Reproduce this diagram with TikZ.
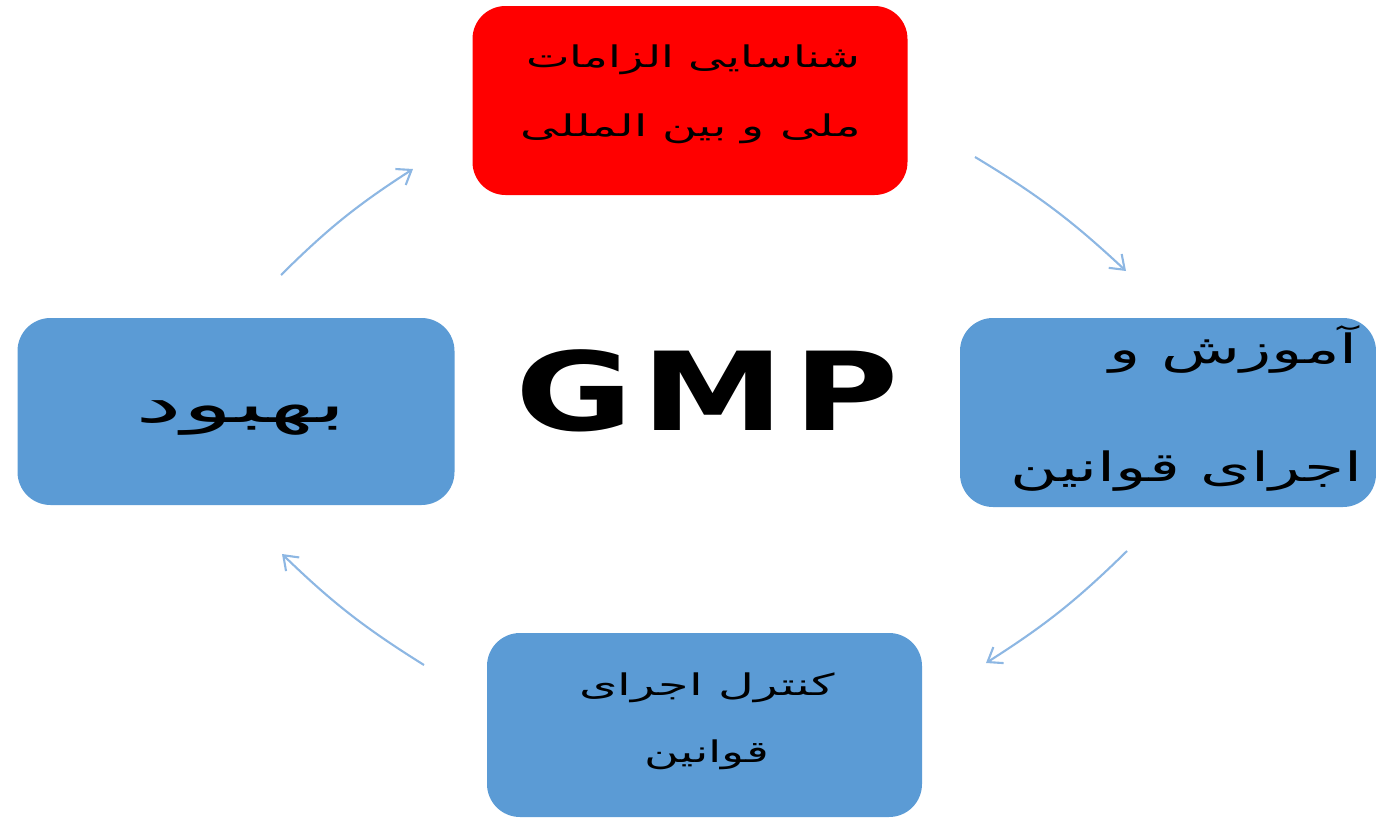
\documentclass[tikz,border=0pt]{standalone}
\usepackage{fontspec}
\usepackage{graphicx}
\usetikzlibrary{arrows.meta}
\TeXXeTstate=1
\newfontfamily\arabicfont[Script=Arabic]{DejaVu Sans}
\newfontfamily\gmpfont[LetterSpace=6]{DejaVu Sans Bold}
\definecolor{boxblue}{HTML}{5B9BD5}
\definecolor{boxred}{HTML}{FF0000}
\definecolor{arrowblue}{HTML}{8DB7E3}
\tikzset{
  stagebox/.style={rounded corners=0.66cm, inner sep=0pt, draw=none},
  bluebox/.style={stagebox, fill=boxblue},
  redbox/.style={stagebox, fill=boxred},
  fatext/.style={inner sep=0pt, text=black},
  cyclearrow/.style={draw=arrowblue, line width=1.2pt, bend left=6,
    -{Straight Barb[length=2.6mm, width=3.8mm, line width=1.2pt]}}
}
\begin{document}
\begin{tikzpicture}[x=0.02cm, y=-0.02cm]
\useasboundingbox (0,0) rectangle (1376,818);
% boxes
\node[redbox, minimum width=435*0.02cm, minimum height=189*0.02cm] (top) at (690,100.5) {};
\node[bluebox, minimum width=416*0.02cm, minimum height=189*0.02cm] (right) at (1168,412.5) {};
\node[bluebox, minimum width=437*0.02cm, minimum height=187*0.02cm] (left) at (236,411.5) {};
\node[bluebox, minimum width=435*0.02cm, minimum height=184*0.02cm] (bottom) at (704.5,725) {};
% texts
\node[fatext, font=\arabicfont\fontsize{17}{20}\selectfont, anchor=base] (t1) at (693,67) {\scalebox{1.55}[1]{\beginR شناسایی الزامات\endR}};
\node[fatext, font=\arabicfont\fontsize{17}{20}\selectfont, anchor=base] (t2) at (691,136) {\scalebox{1.6}[1]{\beginR ملی و بین المللی\endR}};
\node[fatext, font=\arabicfont\fontsize{23}{26}\selectfont, anchor=base east] (r1) at (1358,363) {\scalebox{1.6}[1]{\beginR آموزش و\endR}};
\node[fatext, font=\arabicfont\fontsize{23}{26}\selectfont, anchor=base east] (r2) at (1363,481) {\scalebox{1.6}[1]{\beginR اجرای قوانین\endR}};
\node[fatext, font=\arabicfont\fontsize{17}{20}\selectfont, anchor=base] (b1) at (707,695) {\scalebox{1.65}[1]{\beginR کنترل اجرای\endR}};
\node[fatext, font=\arabicfont\fontsize{17}{20}\selectfont, anchor=base] (b2) at (707,762) {\scalebox{1.6}[1]{\beginR قوانین\endR}};
\node[fatext, font=\arabicfont\fontsize{30}{34}\selectfont, anchor=base] (l1) at (241,422) {\scalebox{2.0}[1]{\beginR بهبود\endR}};
\node[fatext, font=\gmpfont\fontsize{62}{70}\selectfont, anchor=base] (gmp) at (707,430) {\scalebox{1.32}[1]{GMP}};
% arrow ends
\coordinate (a1s) at (281,275);
\coordinate (a1e) at (413,169);
\coordinate (a2s) at (975,157);
\coordinate (a2e) at (1126,271);
\coordinate (a3s) at (1127,551);
\coordinate (a3e) at (986,663);
\coordinate (a4s) at (424,665);
\coordinate (a4e) at (282,554);
\draw[cyclearrow] (a1s) to (a1e);
\draw[cyclearrow] (a2s) to (a2e);
\draw[cyclearrow] (a3s) to (a3e);
\draw[cyclearrow] (a4s) to (a4e);
\end{tikzpicture}
\end{document}
